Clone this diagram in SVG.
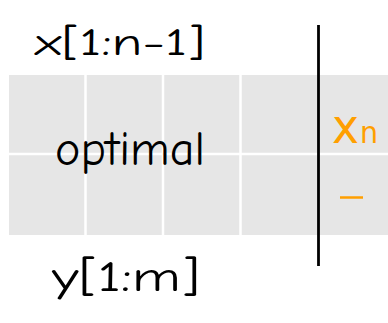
<svg xmlns="http://www.w3.org/2000/svg" width="388" height="323" viewBox="0 0 388 323">
<style>
.t{font-family:"Comic Neue","DejaVu Sans","Liberation Sans",sans-serif;fill:#000}
.o{font-family:"DejaVu Sans","Liberation Sans",sans-serif;fill:#FF9F00}
.g{stroke:#fff;stroke-width:2.5}
</style>
<rect width="388" height="323" fill="#fff"/>
<g id="grid">
<rect x="9" y="75" width="379" height="160" fill="#E6E6E6"/>
<line class="g" x1="85.5" y1="75" x2="85.5" y2="235"/>
<line class="g" x1="163" y1="75" x2="163" y2="235"/>
<line class="g" x1="240.5" y1="75" x2="240.5" y2="235"/>
<line class="g" x1="9" y1="154" x2="388" y2="154"/>
</g>
<line x1="318.5" y1="25" x2="318.5" y2="266" stroke="#000" stroke-width="2.8"/>
<text class="t" x="35" y="55" font-size="38" textLength="170" lengthAdjust="spacingAndGlyphs">x[1:n-1]</text>
<text class="t" x="55" y="165" font-size="48" textLength="150" lengthAdjust="spacingAndGlyphs">optimal</text>
<text class="t" x="52" y="291" font-size="42" textLength="148" lengthAdjust="spacingAndGlyphs">y[1:m]</text>
<text class="o" x="332" y="143" font-size="48" textLength="46" lengthAdjust="spacingAndGlyphs">x<tspan font-size="30" dx="1">n</tspan></text>
<line x1="340" y1="197.5" x2="363" y2="197.5" stroke="#FF9F00" stroke-width="2.5"/>
</svg>
